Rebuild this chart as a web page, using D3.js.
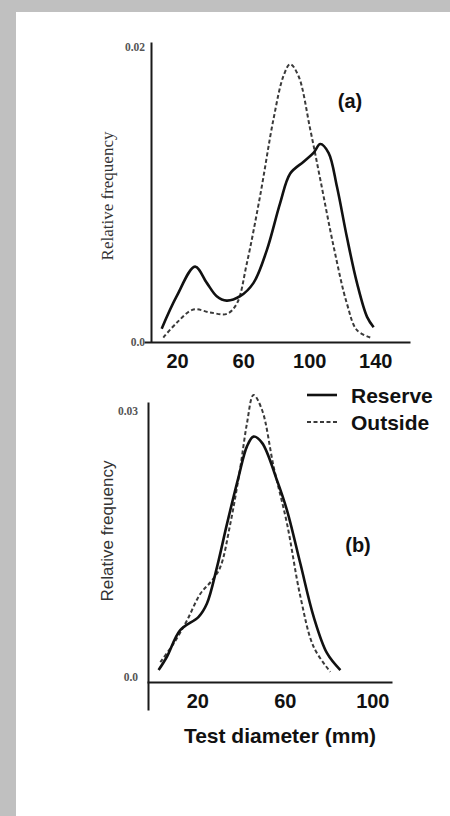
<!DOCTYPE html>
<html>
<head>
<meta charset="utf-8">
<script src="https://cdn.jsdelivr.net/npm/d3@7"></script>
<style>
  body { margin: 0; background: #c0c0c0; }
  svg { display: block; }
</style>
</head>
<body>
<div id="chart"></div>
<script>
// panel (a): test diameter (mm) vs relative frequency
var reserveA = [
  [10.7, 0.0009], [19.8, 0.0031], [30.9, 0.0051], [38, 0.0040], [44, 0.0031],
  [50, 0.0028], [58.2, 0.0031], [66.3, 0.0040], [74.3, 0.0062], [82.4, 0.0094],
  [88.5, 0.0114], [96.6, 0.0122], [102.6, 0.0128], [106.7, 0.0134], [111.7, 0.0128],
  [116.8, 0.0105], [122.8, 0.0071], [128.9, 0.0040], [135, 0.0017], [139, 0.0010]
];
var outsideA = [
  [11.7, 0.0003], [19.8, 0.0013], [29.9, 0.0022], [40, 0.0020], [50.1, 0.0019],
  [56.2, 0.0026], [62.2, 0.0053], [70.3, 0.0099], [78.4, 0.0151], [84.4, 0.0180],
  [88.5, 0.0188], [93.5, 0.0180], [100.6, 0.0144], [106.7, 0.0110], [114.7, 0.0065],
  [122.8, 0.0026], [128.9, 0.0008], [137, 0.0003]
];

// panel (b)
var reserveB = [
  [2.3, 0.0008], [6.1, 0.0023], [12.2, 0.0053], [20.6, 0.0068], [24.4, 0.0083],
  [29, 0.0124], [33.6, 0.0173], [38.9, 0.0226], [42.7, 0.0260], [45.7, 0.0271],
  [49.6, 0.0264], [56.4, 0.0222], [61, 0.0188], [67.1, 0.0128], [73.2, 0.0068],
  [79.3, 0.0027], [85.4, 0.0008]
];
var outsideB = [
  [3.1, 0.0017], [9.2, 0.0038], [15.3, 0.0064], [21.4, 0.0094], [26.7, 0.0109],
  [30.5, 0.0124], [35.1, 0.0173], [39.7, 0.0237], [42.7, 0.0286], [45.7, 0.0318],
  [49.6, 0.0301], [54.9, 0.0237], [61, 0.0173], [67.1, 0.0091], [73.2, 0.0034],
  [80.8, 0.0006]
];

var xTicksA = [20, 60, 100, 140];
var yTicksA = [0, 0.02];
var xTicksB = [20, 60, 100];
var yTicksB = [0, 0.03];
var legendLabels = ["Reserve", "Outside"];

var WIDTH = 450;
var HEIGHT = 816;
var AXIS_COLOR = '#1a1a1a';
var BOLD_FONT = '"Liberation Sans", Arial, sans-serif';

var svg = d3.select("#chart")
  .append("svg")
  .attr("width", WIDTH)
  .attr("height", HEIGHT);

svg.append("rect")
  .attr("x", 16).attr("y", 12)
  .attr("width", WIDTH - 16).attr("height", HEIGHT - 12)
  .attr("fill", "#ffffff");

var drawPanel = function(p) {
  var x = d3.scaleLinear().domain(p.xDomain).range(p.xRange);
  var y = d3.scaleLinear().domain(p.yDomain).range(p.yRange);

  // x axis
  var gx = svg.append("g")
    .attr("transform", "translate(0," + p.xAxisY + ")")
    .call(d3.axisBottom(x).tickValues(p.xTicks).tickSize(0).tickSizeOuter(0).tickPadding(12));
  gx.select(".domain").attr("stroke", AXIS_COLOR).attr("stroke-width", 2);
  gx.selectAll("text")
    .attr("font-family", BOLD_FONT)
    .attr("font-weight", "bold")
    .attr("font-size", 20)
    .attr("fill", "#111");

  // y axis
  var gy = svg.append("g")
    .attr("transform", "translate(" + p.yAxisX + ",0)")
    .call(d3.axisLeft(y).tickValues(p.yTicks).tickSize(0).tickSizeOuter(0).tickPadding(p.yPad)
      .tickFormat(function(d) { return d === 0 ? "0.0" : d3.format(".2f")(d); }));
  gy.select(".domain").attr("stroke", AXIS_COLOR).attr("stroke-width", 2);
  gy.selectAll("text")
    .attr("font-family", '"Liberation Serif", "Times New Roman", serif')
    .attr("font-weight", "bold")
    .attr("font-size", 11.5)
    .attr("fill", "#555");

  // y label
  svg.append("text")
    .attr("transform", "translate(" + p.yLabelX + "," + p.yLabelY + ") rotate(-90)")
    .attr("text-anchor", "middle")
    .attr("dominant-baseline", "central")
    .attr("font-family", p.yLabelFont)
    .attr("font-size", 17)
    .attr("fill", "#333")
    .text("Relative frequency");

  var line = d3.line()
    .x(function(d) { return x(d[0]); })
    .y(function(d) { return y(d[1]); })
    .curve(d3.curveCatmullRom.alpha(0.5));

  svg.append("path")
    .datum(p.outside)
    .attr("d", line)
    .attr("fill", "none")
    .attr("stroke", "#3a3a3a")
    .attr("stroke-width", 2)
    .attr("stroke-dasharray", "4,2.5");

  svg.append("path")
    .datum(p.reserve)
    .attr("d", line)
    .attr("fill", "none")
    .attr("stroke", "#111")
    .attr("stroke-width", 2.6);

  // panel tag
  svg.append("text")
    .attr("x", p.tagX).attr("y", p.tagY)
    .attr("text-anchor", "middle")
    .attr("dominant-baseline", "central")
    .attr("font-family", BOLD_FONT)
    .attr("font-weight", "bold")
    .attr("font-size", 20)
    .attr("fill", "#111")
    .text(p.tag);
};

drawPanel({
  reserve: reserveA, outside: outsideA,
  xDomain: [0, 161], xRange: [144, 410],
  yDomain: [0, 0.0203], yRange: [342, 42],
  xTicks: xTicksA, yTicks: yTicksA,
  xAxisY: 342, yAxisX: 151, yPad: 6,
  yLabelX: 107, yLabelY: 196,
  yLabelFont: '"Liberation Serif", "Times New Roman", serif',
  tag: "(a)", tagX: 350, tagY: 101
});

drawPanel({
  reserve: reserveB, outside: outsideB,
  xDomain: [-3, 109], xRange: [147, 392],
  yDomain: [-0.0037, 0.031], yRange: [710, 402],
  xTicks: xTicksB, yTicks: yTicksB,
  xAxisY: 682, yAxisX: 148, yPad: 10,
  yLabelX: 107, yLabelY: 531,
  yLabelFont: '"Liberation Sans", Arial, sans-serif',
  tag: "(b)", tagX: 358, tagY: 545
});

// legend
var legend = svg.append("g");
legendLabels.forEach(function(label, i) {
  var ly = 395 + i * 27;
  legend.append("line")
    .attr("x1", 307).attr("x2", 337)
    .attr("y1", ly).attr("y2", ly)
    .attr("stroke", i === 0 ? "#111" : "#3a3a3a")
    .attr("stroke-width", i === 0 ? 2.6 : 2.2)
    .attr("stroke-dasharray", i === 0 ? null : "4,2.5");
  legend.append("text")
    .attr("x", 351).attr("y", ly)
    .attr("dominant-baseline", "central")
    .attr("font-family", BOLD_FONT)
    .attr("font-weight", "bold")
    .attr("font-size", 21)
    .attr("fill", "#111")
    .text(label);
});

// shared x label
svg.append("text")
  .attr("x", 280).attr("y", 743)
  .attr("text-anchor", "middle")
  .attr("font-family", BOLD_FONT)
  .attr("font-weight", "bold")
  .attr("font-size", 21)
  .attr("fill", "#111")
  .text("Test diameter (mm)");
</script>
</body>
</html>
